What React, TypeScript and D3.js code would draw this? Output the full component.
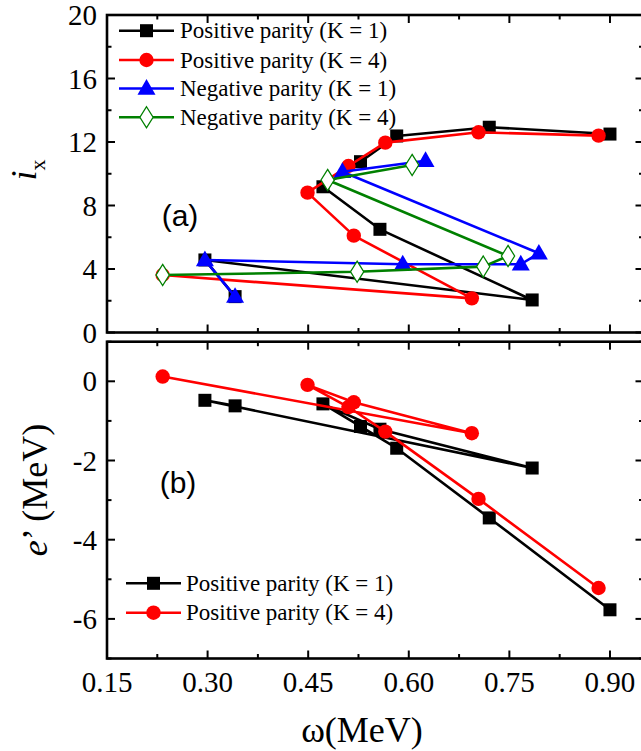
import React from "react";
import * as d3 from "d3";

// ---------- data ----------
const posK1_w = [0.341, 0.296, 0.784, 0.557, 0.472, 0.528, 0.582, 0.720, 0.900];
const posK1_ix = [2.26, 4.57, 2.05, 6.50, 9.18, 10.76, 12.38, 12.93, 12.50];
const posK1_e = [-0.62, -0.48, -2.19, -1.21, -0.57, -1.14, -1.69, -3.45, -5.77];

const posK4_w = [0.233, 0.694, 0.518, 0.449, 0.510, 0.565, 0.704, 0.883];
const posK4_ix = [3.62, 2.15, 6.10, 8.81, 10.49, 11.96, 12.61, 12.40];
const posK4_e = [0.12, -1.31, -0.53, -0.09, -0.65, -1.27, -2.97, -5.22];

const negK1_w = [0.341, 0.296, 0.591, 0.767, 0.794, 0.501, 0.625];
const negK1_ix = [2.26, 4.57, 4.30, 4.30, 4.99, 10.13, 10.82];

const negK4_w = [0.233, 0.523, 0.711, 0.748, 0.479, 0.605];
const negK4_ix = [3.62, 3.83, 4.15, 4.82, 9.61, 10.55];

const xTicks = [0.15, 0.3, 0.45, 0.6, 0.75, 0.9];
const xMinor = [0.225, 0.375, 0.525, 0.675, 0.825];
const yaTicks = [0, 4, 8, 12, 16, 20];
const yaMinor = [2, 6, 10, 14, 18];
const ybTicks = [0, -2, -4, -6];
const ybMinor = [1, -1, -3, -5, -7];

const legendA = [
  "Positive parity (K = 1)",
  "Positive parity (K = 4)",
  "Negative parity (K = 1)",
  "Negative parity (K = 4)",
];

const COLORS = { black: "#000000", red: "#ff0000", blue: "#0000ff", green: "#008000" };

type Marker = "square" | "circle" | "triangle" | "diamond";

const SERIF = "Liberation Serif, Times New Roman, DejaVu Serif, serif";
const SANS = "Liberation Sans, Arial, DejaVu Sans, sans-serif";

function MarkerShape({ type, cx, cy, color }: { type: Marker; cx: number; cy: number; color: string }) {
  if (type === "square") return <rect x={cx - 6.5} y={cy - 6.5} width={13} height={13} fill={color} />;
  if (type === "circle") return <circle cx={cx} cy={cy} r={7.2} fill={color} />;
  if (type === "triangle") {
    const s = d3.symbol().type(d3.symbolTriangle).size(140)();
    return <path d={s as string} transform={`translate(${cx},${cy + 1})`} fill={color} />;
  }
  const s = d3.symbol().type(d3.symbolDiamond).size(130)();
  return <path d={s as string} transform={`translate(${cx},${cy}) scale(1.08,1)`} fill="#ffffff" stroke={color} strokeWidth={1.2} />;
}

export default function App() {
  const W = 641, H = 751;
  const x = d3.scaleLinear().domain([0.15, 0.95]).range([107, 643.5]);
  const ya = d3.scaleLinear().domain([0, 20]).range([332.5, 15]);
  const yb = d3.scaleLinear().domain([-7, 1]).range([658.5, 341.7]);

  const series = (
    ws: number[],
    vs: number[],
    y: d3.ScaleLinear<number, number>,
    color: string,
    marker: Marker,
    key: string
  ) => {
    const pts: [number, number][] = ws.map((w, i) => [x(w), y(vs[i])]);
    const line = d3.line()(pts) as string;
    return (
      <g key={key}>
        <path d={line} fill="none" stroke={color} strokeWidth={2.6} strokeLinejoin="round" />
        {pts.map((p, i) => (
          <MarkerShape key={i} type={marker} cx={p[0]} cy={p[1]} color={color} />
        ))}
      </g>
    );
  };

  const frame = (y: d3.ScaleLinear<number, number>, major: number[], minor: number[], key: string) => {
    const [y0, y1] = y.range();
    const x0 = x.range()[0], x1 = x.range()[1];
    return (
      <g key={key}>
        <rect x={x0} y={y1} width={x1 - x0} height={y0 - y1} fill="none" stroke="#000" strokeWidth={2.6} />
        {xTicks.map((t, i) => (
          <g key={"xm" + i}>
            <line x1={x(t)} x2={x(t)} y1={y0} y2={y0 - 8} stroke="#000" strokeWidth={2} />
            <line x1={x(t)} x2={x(t)} y1={y1} y2={y1 + 8} stroke="#000" strokeWidth={2} />
          </g>
        ))}
        {xMinor.map((t, i) => (
          <g key={"xn" + i}>
            <line x1={x(t)} x2={x(t)} y1={y0} y2={y0 - 4.5} stroke="#000" strokeWidth={2} />
            <line x1={x(t)} x2={x(t)} y1={y1} y2={y1 + 4.5} stroke="#000" strokeWidth={2} />
          </g>
        ))}
        {major.map((t, i) => (
          <g key={"ym" + i}>
            <line x1={x0} x2={x0 + 8} y1={y(t)} y2={y(t)} stroke="#000" strokeWidth={2} />
            <line x1={x1} x2={x1 - 8} y1={y(t)} y2={y(t)} stroke="#000" strokeWidth={2} />
            <text x={97} y={y(t)} dy="0.35em" textAnchor="end" style={{ fontFamily: SERIF, fontSize: 29 }}>
              {t < 0 ? "-" + Math.abs(t) : String(t)}
            </text>
          </g>
        ))}
        {minor.map((t, i) => (
          <g key={"yn" + i}>
            <line x1={x0} x2={x0 + 4.5} y1={y(t)} y2={y(t)} stroke="#000" strokeWidth={2} />
            <line x1={x1} x2={x1 - 4.5} y1={y(t)} y2={y(t)} stroke="#000" strokeWidth={2} />
          </g>
        ))}
      </g>
    );
  };

  const legendItem = (lx0: number, lx1: number, tx: number, y: number, color: string, marker: Marker, label: string, key: string) => (
    <g key={key}>
      <line x1={lx0} x2={lx1} y1={y} y2={y} stroke={color} strokeWidth={2.6} />
      <MarkerShape type={marker} cx={(lx0 + lx1) / 2} cy={y} color={color} />
      <text x={tx} y={y} dy="0.33em" style={{ fontFamily: SERIF, fontSize: 23 }}>{label}</text>
    </g>
  );

  const aColors = [COLORS.black, COLORS.red, COLORS.blue, COLORS.green];
  const aMarkers: Marker[] = ["square", "circle", "triangle", "diamond"];
  const aRows = [30.7, 60, 88.5, 117.3];

  return (
    <svg width={W} height={H} style={{ position: "absolute", left: 0, top: 0, background: "#fff" }}>
      {frame(ya, yaTicks, yaMinor, "fa")}
      {frame(yb, ybTicks, ybMinor, "fb")}

      {series(posK1_w, posK1_ix, ya, COLORS.black, "square", "a1")}
      {series(posK4_w, posK4_ix, ya, COLORS.red, "circle", "a2")}
      {series(negK1_w, negK1_ix, ya, COLORS.blue, "triangle", "a3")}
      {series(negK4_w, negK4_ix, ya, COLORS.green, "diamond", "a4")}

      {series(posK1_w, posK1_e, yb, COLORS.black, "square", "b1")}
      {series(posK4_w, posK4_e, yb, COLORS.red, "circle", "b2")}

      {legendA.map((l, i) => legendItem(119, 174, 180, aRows[i], aColors[i], aMarkers[i], l, "la" + i))}
      {legendA.slice(0, 2).map((l, i) => legendItem(126, 181, 186, [583.3, 612.7][i], aColors[i], aMarkers[i], l, "lb" + i))}

      <text x={180} y={215} dy="0.35em" textAnchor="middle" style={{ fontFamily: SANS, fontSize: 30 }}>(a)</text>
      <text x={178} y={482} dy="0.35em" textAnchor="middle" style={{ fontFamily: SANS, fontSize: 30 }}>(b)</text>

      {xTicks.map((t, i) => (
        <text key={"xl" + i} x={x(t)} y={692} textAnchor="middle" style={{ fontFamily: SERIF, fontSize: 29 }}>
          {t.toFixed(2)}
        </text>
      ))}

      <text x={362} y={742} textAnchor="middle" style={{ fontFamily: SERIF, fontSize: 36 }}>
        ω(MeV)
      </text>
      <text transform="translate(36,170) rotate(-90)" textAnchor="middle" style={{ fontFamily: SERIF, fontSize: 36 }}>
        <tspan fontStyle="italic">i</tspan>
        <tspan fontSize={22} dy={9}>x</tspan>
      </text>
      <text transform="translate(47,490) rotate(-90)" textAnchor="middle" style={{ fontFamily: SERIF, fontSize: 36 }}>
        <tspan fontStyle="italic">e</tspan>
        <tspan>’ (MeV)</tspan>
      </text>
    </svg>
  );
}
